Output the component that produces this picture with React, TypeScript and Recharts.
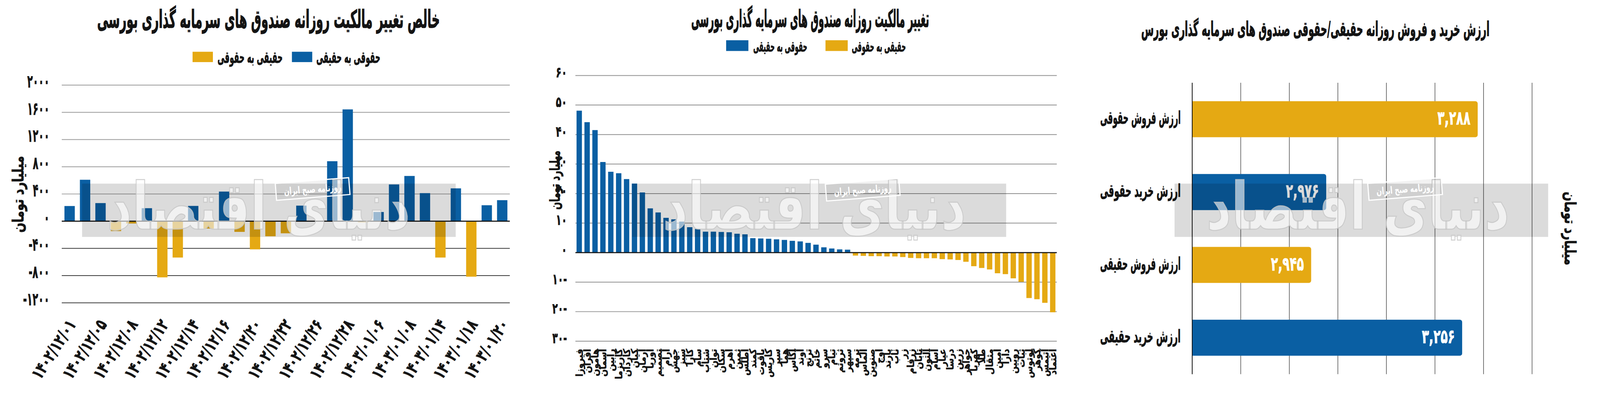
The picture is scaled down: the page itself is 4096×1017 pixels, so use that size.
import React from 'react';
import { BarChart, Bar, XAxis, YAxis, CartesianGrid, ReferenceLine, Cell, LabelList } from 'recharts';

const BLUE = '#0a5fa3';
const YELLOW = '#e5a913';
const INK = '#141414';
const FONT = "'DejaVu Sans Condensed', 'DejaVu Sans', sans-serif";

// ---------- Panel 1: daily net change (billion toman) ----------
const dailyDates = [
  '1402/12/01', '1402/12/02', '1402/12/05', '1402/12/06', '1402/12/08', '1402/12/09',
  '1402/12/12', '1402/12/13', '1402/12/14', '1402/12/15', '1402/12/16', '1402/12/19',
  '1402/12/20', '1402/12/21', '1402/12/22', '1402/12/23', '1402/12/26', '1402/12/27',
  '1402/12/28', '1402/12/29', '1403/01/06', '1403/01/07', '1403/01/08', '1403/01/13',
  '1403/01/14', '1403/01/15', '1403/01/18', '1403/01/19', '1403/01/20',
];
const dailyNetChange = [
  223, 609, 266, -146, -34, 191, -826, -534, 225, -109, 435, -157, -414, -221, -178,
  229, 0, 881, 1643, -15, 135, 540, 665, 412, -534, 483, -816, 234, 309,
];
const dailyTicks = [-1200, -800, -400, 0, 400, 800, 1200, 1600, 2000];

// ---------- Panel 2: per-fund ownership change ----------
const fundNames = [
  'فیروزا', 'افران', 'هامون', 'آسمان', 'رابین', 'کاریزما', 'کاردان', 'کیان', 'آرمان', 'اوریا',
  'تصمیم', 'آرام', 'جهش', 'سبز', 'کارا', 'سام', 'شتاب', 'توان', 'سکان', 'اهرم',
  'ثمین', 'اطلس', 'کمند', 'یاقوت', 'کاریس', 'سپر', 'هما', 'آگاس', 'آوند', 'ترنج',
  'خاتم', 'سرو', 'تیام', 'ثروتم', 'سپهر', 'ترمه', 'الماس', 'صنوین', 'اوج', 'پارند',
  'ناب', 'زر', 'زرفام', 'تابان', 'آلتون', 'آسام', 'عیار', 'درسا', 'زرین', 'جواهر',
  'کهربا', 'طلا', 'مثقال', 'امین', 'دارا', 'رویین', 'ثبات', 'لوتوس', 'گوهر', 'آتیمس',
  'اعتماد',
];
const fundNetChange = [
  48.1, 44.2, 41.5, 30.7, 27.4, 26.9, 24.9, 23.4, 20.4, 15.0,
  13.6, 11.8, 11.3, 10.5, 8.6, 8.0, 7.1, 7.1, 7.0, 6.9,
  6.4, 6.2, 4.9, 4.8, 4.7, 4.5, 4.3, 4.0, 3.8, 3.3,
  2.7, 1.8, 1.4, 1.1, 1.0, -1.0, -1.1, -1.2, -1.2, -1.3,
  -1.3, -1.5, -1.8, -1.9, -1.9, -1.9, -2.2, -2.3, -2.5, -3.1,
  -4.6, -5.2, -5.7, -7.0, -7.3, -8.7, -9.9, -15.4, -15.8, -17.0,
  -20.2,
];
const fundTicks = [-30, -20, -10, 0, 10, 20, 30, 40, 50, 60];

// ---------- Panel 3: buy / sell values ----------
const flowLabels = ['ارزش فروش حقوقی', 'ارزش خرید حقوقی', 'ارزش فروش حقیقی', 'ارزش خرید حقیقی'];
const flowValues = [3288, 2976, 2945, 3256];
const flowSides = ['sell', 'buy', 'sell', 'buy'];
const flowTicks = [2700, 2800, 2900, 3000, 3100, 3200, 3300, 3400];

const toFa = (s: string) => s.replace(/\d/g, (d) => '۰۱۲۳۴۵۶۷۸۹'[Number(d)]);

const dailyData = dailyDates.map((d, i) => ({ date: d, net: dailyNetChange[i] }));
const fundData = fundNames.map((n, i) => ({ name: n, net: fundNetChange[i] }));
const flowData = flowLabels.map((n, i) => ({ name: n, value: flowValues[i], side: flowSides[i] }));

const applyScale = (s: any, vals: number[]) => {
  if (typeof s === 'function') return vals.map((v) => s(v));
  if (s && typeof s.map === 'function') return vals.map((v) => s.map(v));
  return [];
};
const hGen = (vals: number[]) => (props: any) => applyScale(props?.yAxis?.scale, vals);
const vGen = (vals: number[]) => (props: any) => applyScale(props?.xAxis?.scale, vals);

// Text squeezed horizontally to a target width (mimics the condensed newspaper face)
function FitText({ x, y, w, rot = 0, anchor = 'middle', children, ...rest }: any) {
  const ref = React.useRef<SVGTextElement>(null);
  const [k, setK] = React.useState(1);
  React.useLayoutEffect(() => {
    const el = ref.current;
    if (!el) return;
    const n = el.getComputedTextLength();
    if (n > 0) {
      const nk = w / n;
      if (Math.abs(nk - k) > 0.002) setK(nk);
    }
  });
  return (
    <text ref={ref} x={0} y={0} textAnchor={anchor} fontFamily={FONT} fontWeight={700} fill={INK}
      stroke={INK} strokeWidth={1} transform={`translate(${x} ${y}) rotate(${rot}) scale(${k} 1)`} {...rest}>
      {children}
    </text>
  );
}

// ---------- tick renderers ----------
const numLabel = (v: number, minusRight: boolean) => {
  const d = toFa(String(Math.abs(v)));
  if (v >= 0) return { txt: d, n: d.length, neg: false };
  return { txt: minusRight ? d + '-' : '-' + d, n: d.length, neg: true };
};

const YTickDaily = (props: any) => {
  const { y, payload } = props;
  const l = numLabel(payload.value, false);
  return (
    <FitText x={129} y={y + 6} anchor="end" fontSize={46} w={14.5 * l.n + (l.neg ? 11 : 0)}>{l.txt}</FitText>
  );
};

const XTickDaily = (props: any) => {
  const { x, y, payload } = props;
  return (
    <FitText x={x + 6} y={y + 48} rot={-57} anchor="end" dominantBaseline="central" fontSize={44} w={174}>
      {toFa(payload.value)}
    </FitText>
  );
};

const YTickFund = (props: any) => {
  const { y, payload } = props;
  const l = numLabel(payload.value, true);
  return (
    <FitText x={78} y={y + 5} anchor="end" fontSize={38} w={14.5 * l.n + (l.neg ? 9 : 0)}>{l.txt}</FitText>
  );
};

const XTickFund = (props: any) => {
  const { x, y, payload } = props;
  const ay = y + 20;
  return (
    <text x={x} y={ay} transform={`rotate(-90, ${x}, ${ay})`} textAnchor="end" dominantBaseline="central"
      fontFamily={FONT} fontWeight={700} fontSize={25} fill={INK} stroke={INK} strokeWidth={0.6}>{payload.value}</text>
  );
};

const YTickFlow = (props: any) => {
  const { y, payload } = props;
  const s = String(payload.value);
  return (
    <FitText x={278} y={y - 4} anchor="end" dominantBaseline="central" fontSize={46} w={14 * s.length}>{s}</FitText>
  );
};

const FlowValueLabel = (props: any) => {
  const { x, y, width, height, value } = props;
  const s = toFa(Number(value).toLocaleString('en-US'));
  return (
    <FitText x={x + width - 19} y={y + height / 2 - 3} anchor="end" dominantBaseline="central" fill="#fff"
      stroke="#fff" fontSize={50} w={86}>{s}</FitText>
  );
};

// ---------- charts ----------
function DailyChart() {
  return (
    <BarChart width={1400} height={1035} data={dailyData} margin={{ top: 222, right: 71, bottom: 45, left: 0 }}>
      <CartesianGrid vertical={false} stroke="#9a9a9a" strokeWidth={2}
        horizontalCoordinatesGenerator={hGen(dailyTicks.filter((v) => v > 0))} />
      <CartesianGrid vertical={false} stroke="#3a3a3a" strokeWidth={2}
        horizontalCoordinatesGenerator={hGen(dailyTicks.filter((v) => v < 0))} />
      <XAxis dataKey="date" interval={1} tick={<XTickDaily />} tickLine={false} axisLine={false}
        tickSize={0} tickMargin={0} height={200} />
      <YAxis type="number" domain={[-1200, 2000]} ticks={dailyTicks} interval={0} tick={<YTickDaily />}
        tickLine={false} axisLine={false} width={161} tickSize={0} tickMargin={0} />
      <Bar dataKey="net" barSize={27} isAnimationActive={false}>
        {dailyData.map((d, i) => <Cell key={i} fill={d.net >= 0 ? BLUE : YELLOW} />)}
      </Bar>
      <ReferenceLine y={0} stroke={INK} strokeWidth={3} />
    </BarChart>
  );
}

function FundChart() {
  return (
    <BarChart width={1400} height={1035} data={fundData} margin={{ top: 197, right: 45, bottom: 45, left: 0 }}>
      <CartesianGrid vertical={false} stroke="#8f8f8f" strokeWidth={2} />
      <XAxis dataKey="name" interval={0} tick={<XTickFund />} tickLine={false} axisLine={false}
        tickSize={0} tickMargin={0} height={100} />
      <YAxis type="number" domain={[-30, 60]} ticks={fundTicks} interval={0} tick={<YTickFund />}
        tickLine={false} axisLine={false} width={100} tickSize={0} tickMargin={0} />
      <Bar dataKey="net" barSize={14} isAnimationActive={false}>
        {fundData.map((d, i) => <Cell key={i} fill={d.net >= 0 ? BLUE : YELLOW} />)}
      </Bar>
      <ReferenceLine y={0} stroke={INK} strokeWidth={3} />
    </BarChart>
  );
}

function FlowChart() {
  return (
    <BarChart layout="vertical" width={1370} height={1035} data={flowData}
      margin={{ top: 216, right: 176, bottom: 59, left: 0 }}>
      <CartesianGrid horizontal={false} stroke="#4a4a4a" strokeWidth={1.5}
        verticalCoordinatesGenerator={vGen(flowTicks)} />
      <XAxis type="number" domain={[2700, 3400]} ticks={flowTicks} interval={0} tick={false}
        tickLine={false} axisLine={false} height={0} />
      <YAxis type="category" dataKey="name" width={308} tick={<YTickFlow />} tickLine={false}
        axisLine={{ stroke: INK, strokeWidth: 2 }} tickSize={0} tickMargin={0} />
      <Bar dataKey="value" barSize={94} radius={[0, 6, 6, 0]} isAnimationActive={false}>
        {flowData.map((d, i) => <Cell key={i} fill={d.side === 'buy' ? BLUE : YELLOW} />)}
        <LabelList dataKey="value" content={<FlowValueLabel />} />
      </Bar>
    </BarChart>
  );
}

// ---------- watermark ----------
const Watermark = ({ x, w, logoX, boxX, boxY }: any) => (
  <g>
    <rect x={x} y={479} width={w} height={139} fill="#000" fillOpacity={0.14} />
    <FitText x={logoX} y={598} fontSize={170} w={790} fill="#fff" fillOpacity={0.6}
      stroke="#c4c4c4" strokeWidth={2.5} strokeOpacity={0.8}>دنیای اقتصاد</FitText>
    <g transform={`rotate(-4.5, ${boxX}, ${boxY})`}>
      <rect x={boxX - 96} y={boxY - 22} width={192} height={44} fill="#000" fillOpacity={0.05}
        stroke="#fff" strokeWidth={3} />
      <FitText x={boxX} y={boxY} dominantBaseline="central" fontSize={26} w={150} fill="#fff"
        stroke="none">روزنامه صبح ایران</FitText>
    </g>
  </g>
);

function Overlay() {
  return (
    <svg width={4170} height={1035} style={{ position: 'absolute', left: 0, top: 0, pointerEvents: 'none' }}>
      <Watermark x={214} w={974} logoX={674} boxX={815} boxY={493} />
      <Watermark x={1648} w={975} logoX={2123} boxX={2249} boxY={495} />
      <Watermark x={3062} w={974} logoX={3540} boxX={3663} boxY={493} />

      {/* Panel 1 */}
      <FitText x={700} y={72} fontSize={64} w={893} strokeWidth={1.6}>خالص تغییر مالکیت روزانه صندوق های سرمایه گذاری بورسی</FitText>
      <rect x={502} y={135} width={53} height={27} fill={YELLOW} />
      <FitText x={652} y={164} fontSize={42} w={170}>حقیقی به حقوقی</FitText>
      <rect x={761} y={135} width={53} height={27} fill={BLUE} />
      <FitText x={908} y={164} fontSize={42} w={167}>حقوقی به حقیقی</FitText>
      <FitText x={47} y={507} rot={-90} dominantBaseline="central" fontSize={40} w={200}>میلیارد تومان</FitText>

      {/* Panel 2 */}
      <FitText x={2112} y={70} fontSize={62} w={620} strokeWidth={1.6}>تغییر مالکیت روزانه صندوق های سرمایه گذاری بورسی</FitText>
      <rect x={1893} y={105} width={58} height={28} fill={BLUE} />
      <FitText x={2034} y={134} fontSize={38} w={141}>حقوقی به حقیقی</FitText>
      <rect x={2152} y={105} width={58} height={28} fill={YELLOW} />
      <FitText x={2291} y={134} fontSize={38} w={141}>حقیقی به حقوقی</FitText>
      <FitText x={1446} y={470} rot={-90} dominantBaseline="central" fontSize={36} w={154}>میلیارد تومان</FitText>

      {/* Panel 3 */}
      <FitText x={3429} y={94} fontSize={52} w={908} strokeWidth={1.4}>ارزش خرید و فروش روزانه حقیقی/حقوقی صندوق های سرمایه گذاری بورس</FitText>
      <FitText x={4093} y={596} rot={90} dominantBaseline="central" fontSize={40} w={192}>میلیارد تومان</FitText>
    </svg>
  );
}

export default function App() {
  return (
    <div style={{ position: 'absolute', left: 0, top: 0, width: 4170, height: 1035, transform: 'scale(0.982)',
      transformOrigin: '0 0', background: '#fff', overflow: 'hidden', fontFamily: FONT }}>
      <div style={{ position: 'absolute', left: 0, top: 0 }}><DailyChart /></div>
      <div style={{ position: 'absolute', left: 1400, top: 0 }}><FundChart /></div>
      <div style={{ position: 'absolute', left: 2800, top: 0 }}><FlowChart /></div>
      <Overlay />
    </div>
  );
}
